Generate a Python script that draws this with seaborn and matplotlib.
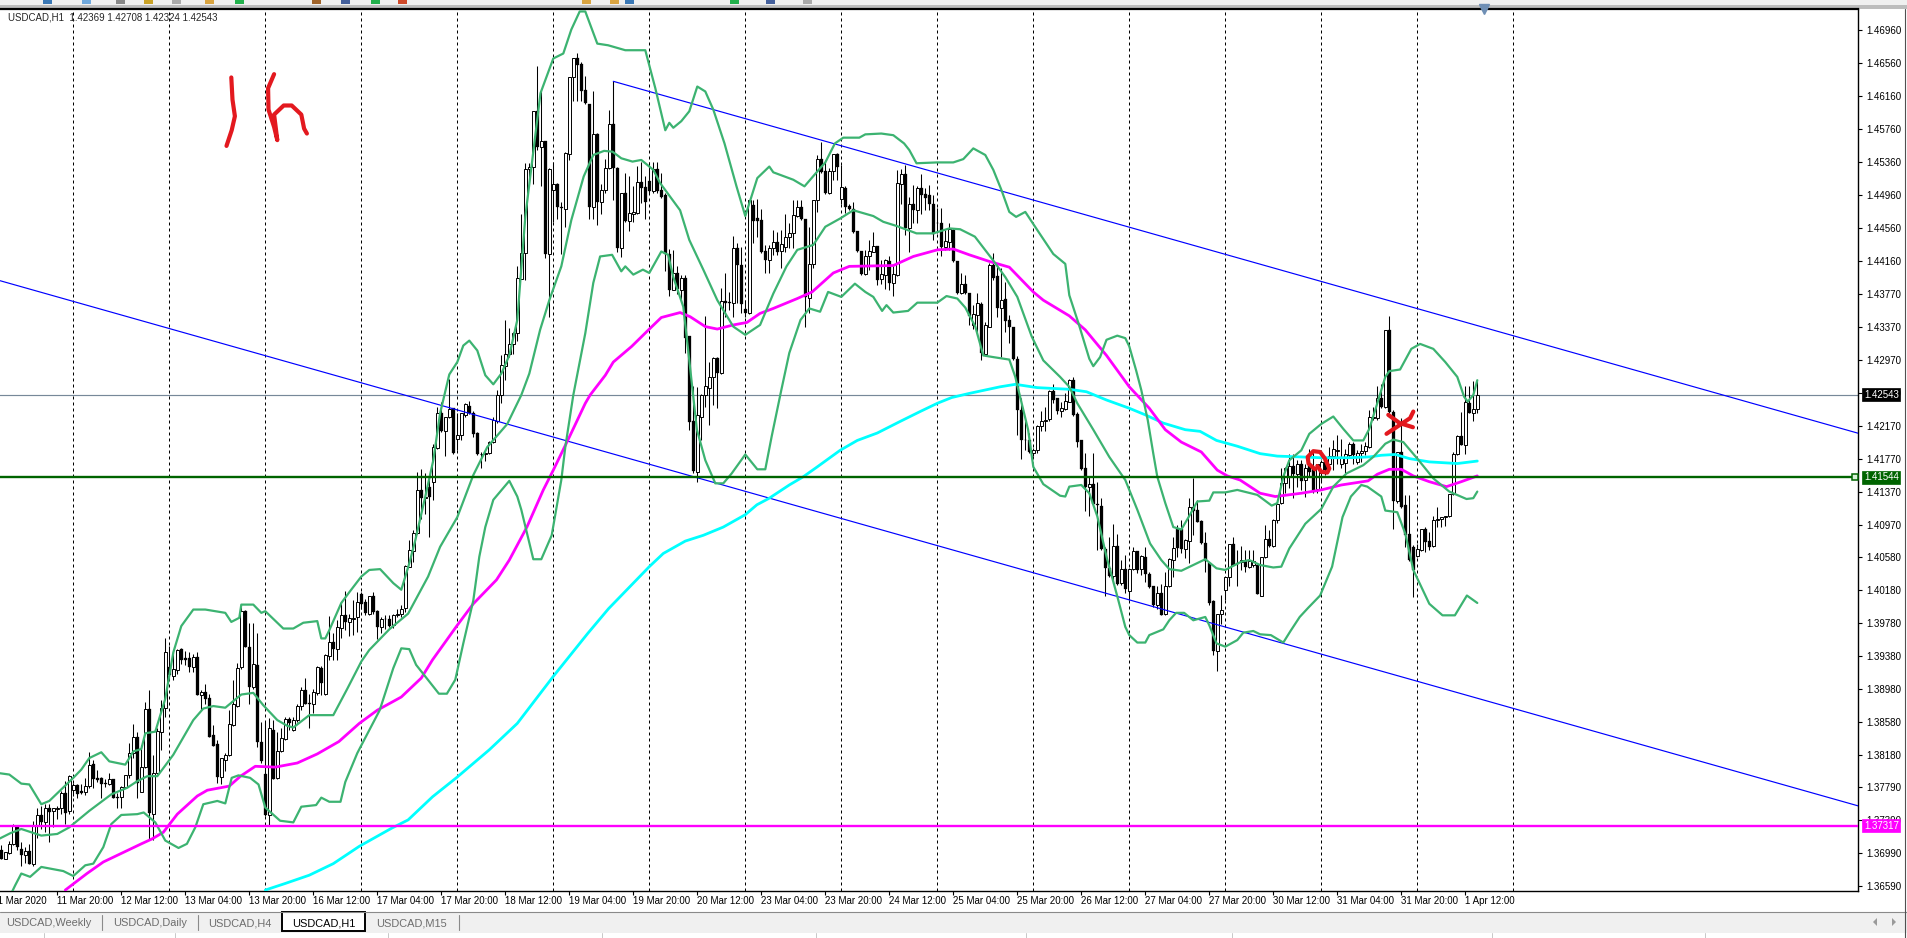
import numpy as np
import pandas as pd
import seaborn as sns
import matplotlib.pyplot as plt
from matplotlib.patches import Rectangle, Polygon

# USDCAD H1 candles, all quotes in 1/10000 of a price unit
open_pts = [
    13703,13692,13699,13710,13732,13704,13696,13701,13686,13732,
    13745,13737,13754,13750,13752,13753,13772,13750,13775,13781,
    13774,13773,13780,13807,13790,13790,13784,13783,13788,13767,
    13767,13779,13793,13820,13839,13773,13803,13873,13746,13796,
    13846,13875,13924,13914,13921,13946,13935,13935,13924,13936,
    13891,13894,13887,13842,13831,13791,13812,13818,13854,13877,
    13924,13992,13949,13900,13927,13834,13795,13745,13848,13790,
    13823,13837,13861,13848,13860,13877,13896,13881,13879,13893,
    13923,13892,13938,13955,13946,13972,13987,13979,13983,13985,
    14013,14003,13989,14011,13992,13973,13983,13983,13975,13987,
    13988,13996,14046,14065,14087,14139,14129,14143,14149,14190,
    14232,14211,14228,14238,14201,14206,14230,14241,14232,14208,
    14182,14183,14184,14197,14223,14254,14289,14304,14316,14329,
    14395,14426,14528,14531,14598,14555,14562,14425,14503,14510,
    14482,14479,14546,14639,14662,14655,14624,14607,14482,14570,
    14488,14503,14529,14582,14529,14432,14499,14465,14474,14475,
    14512,14506,14513,14501,14528,14503,14496,14425,14381,14402,
    14381,14396,14325,14222,14161,14228,14254,14263,14276,14299,
    14281,14368,14367,14365,14432,14412,14358,14353,14484,14469,
    14466,14429,14418,14432,14439,14429,14434,14445,14450,14471,
    14482,14468,14372,14413,14490,14540,14525,14499,14525,14546,
    14492,14505,14483,14480,14453,14429,14401,14423,14428,14435,
    14395,14400,14417,14390,14400,14510,14522,14457,14486,14478,
    14505,14498,14496,14486,14463,14462,14433,14440,14454,14417,
    14378,14389,14378,14339,14351,14364,14304,14337,14412,14398,
    14360,14370,14345,14336,14298,14236,14200,14200,14184,14187,
    14216,14222,14225,14259,14250,14235,14237,14246,14272,14231,
    14199,14165,14142,14146,14122,14119,14068,14044,14035,14071,
    14026,14043,14016,14043,14065,14043,14058,14037,14022,13999,
    14014,13989,14022,14054,14092,14092,14067,14077,14118,14115,
    14101,14075,14051,14004,13944,13989,14018,14034,14073,14051,
    14052,14053,14045,14048,14048,14011,14058,14080,14071,14102,
    14123,14147,14156,14168,14158,14171,14151,14171,14165,14140,
    14159,14175,14171,14180,14186,14171,14172,14181,14195,14173,
    14184,14186,14191,14226,14226,14250,14239,14333,14234,14125,
    14185,14121,14086,14070,14059,14066,14092,14077,14071,14102,
    14104,14106,14107,14134,14182,14204,14194,14244,14232,14237]
high_pts = [
    13708,13700,13714,13734,13733,13712,13706,13710,13738,13753,
    13756,13758,13758,13754,13756,13774,13786,13794,13784,13782,
    13782,13790,13821,13812,13800,13791,13789,13796,13788,13772,
    13780,13794,13832,13855,13846,13830,13882,13897,13818,13850,
    13884,13960,13950,13942,13946,13947,13944,13942,13940,13943,
    13896,13904,13892,13854,13836,13814,13820,13872,13908,13929,
    13997,13994,13978,13978,13966,13858,13858,13862,13860,13846,
    13850,13864,13864,13864,13880,13900,13911,13892,13898,13925,
    13925,13940,13986,13965,13981,14003,14017,13989,14005,14015,
    14015,14007,14011,14015,13993,13985,13987,13987,13988,13995,
    13999,14048,14078,14091,14161,14164,14159,14157,14195,14239,
    14246,14228,14273,14238,14232,14232,14244,14247,14235,14209,
    14185,14185,14198,14228,14260,14302,14345,14335,14331,14410,
    14473,14535,14535,14598,14653,14622,14562,14529,14537,14511,
    14488,14549,14640,14662,14669,14658,14641,14607,14622,14572,
    14510,14540,14600,14634,14530,14499,14523,14519,14507,14532,
    14537,14519,14537,14537,14537,14523,14499,14431,14430,14410,
    14400,14400,14325,14265,14264,14255,14350,14294,14300,14300,
    14384,14402,14379,14447,14438,14434,14369,14490,14491,14492,
    14480,14436,14436,14454,14452,14454,14474,14462,14490,14491,
    14491,14468,14458,14490,14545,14561,14539,14529,14546,14547,
    14533,14507,14486,14488,14453,14429,14430,14442,14452,14435,
    14418,14419,14422,14412,14527,14528,14533,14494,14509,14507,
    14522,14505,14509,14497,14481,14481,14454,14463,14455,14417,
    14402,14400,14378,14363,14378,14367,14343,14414,14426,14413,
    14408,14391,14351,14336,14301,14251,14222,14208,14190,14218,
    14235,14240,14260,14268,14251,14246,14256,14273,14276,14233,
    14200,14184,14155,14184,14149,14129,14070,14082,14098,14086,
    14054,14060,14044,14070,14065,14060,14070,14040,14023,14022,
    14025,14040,14056,14082,14096,14102,14080,14129,14154,14127,
    14103,14088,14051,14006,13989,14012,14034,14074,14082,14066,
    14071,14066,14066,14066,14048,14058,14097,14090,14104,14123,
    14166,14167,14183,14183,14175,14175,14171,14189,14185,14171,
    14175,14179,14191,14199,14206,14201,14189,14197,14197,14188,
    14195,14197,14236,14239,14265,14267,14333,14350,14236,14185,
    14226,14133,14133,14072,14074,14092,14094,14088,14108,14118,
    14106,14108,14134,14185,14205,14234,14265,14265,14271,14271]
low_pts = [
    13692,13692,13698,13708,13702,13683,13687,13685,13683,13717,
    13728,13724,13712,13730,13740,13746,13734,13746,13768,13765,
    13770,13769,13778,13778,13785,13765,13779,13781,13765,13754,
    13753,13778,13790,13814,13765,13773,13802,13716,13715,13795,
    13824,13864,13908,13908,13916,13928,13927,13918,13918,13890,
    13872,13879,13840,13828,13784,13783,13798,13817,13853,13876,
    13922,13948,13879,13898,13827,13808,13744,13732,13788,13789,
    13821,13836,13848,13847,13858,13872,13879,13851,13869,13891,
    13890,13890,13933,13933,13933,13959,13969,13962,13963,13967,
    13995,13987,13987,13989,13958,13966,13971,13973,13972,13985,
    13985,13991,14045,14052,14086,14104,14110,14082,14127,14189,
    14209,14180,14226,14182,14187,14199,14228,14231,14203,14181,
    14166,14174,14182,14196,14220,14244,14272,14300,14304,14320,
    14395,14393,14511,14510,14551,14507,14420,14349,14464,14468,
    14425,14458,14539,14610,14610,14610,14607,14467,14468,14460,
    14473,14499,14528,14522,14428,14421,14464,14453,14464,14473,
    14487,14468,14499,14499,14499,14493,14404,14374,14381,14377,
    14367,14305,14212,14159,14149,14200,14240,14218,14242,14238,
    14280,14349,14357,14349,14365,14354,14349,14352,14438,14446,
    14426,14402,14402,14424,14424,14408,14428,14432,14432,14470,
    14466,14337,14353,14408,14476,14523,14498,14498,14515,14515,
    14486,14475,14478,14451,14428,14400,14400,14406,14427,14387,
    14389,14383,14381,14374,14398,14486,14448,14427,14462,14463,
    14474,14478,14478,14442,14450,14423,14430,14430,14415,14377,
    14377,14377,14339,14334,14325,14297,14303,14336,14394,14349,
    14300,14331,14317,14296,14206,14177,14187,14184,14180,14184,
    14210,14210,14223,14244,14231,14228,14236,14245,14229,14191,
    14163,14114,14107,14119,14066,14066,14010,14034,14026,14024,
    14024,14014,14006,14042,14038,14036,14028,14020,13997,13995,
    13987,13987,14021,14034,14058,14062,14057,14050,14084,14100,
    14073,14040,13999,13939,13920,13977,14006,14022,14048,14022,
    14042,14039,14044,14046,14013,14010,14057,14070,14070,14099,
    14122,14135,14141,14129,14143,14139,14131,14155,14135,14135,
    14149,14157,14165,14163,14171,14165,14159,14179,14171,14171,
    14173,14181,14190,14224,14224,14238,14238,14232,14092,14123,
    14117,14070,14053,14009,14058,14065,14064,14066,14070,14094,
    14094,14095,14106,14133,14181,14193,14182,14232,14222,14232]
close_pts = [
    13692,13700,13710,13732,13706,13696,13701,13686,13732,13745,
    13737,13754,13748,13753,13754,13772,13747,13792,13781,13771,
    13772,13780,13806,13788,13787,13782,13782,13788,13766,13765,
    13779,13793,13820,13839,13784,13803,13873,13747,13796,13847,
    13875,13942,13915,13922,13945,13933,13933,13924,13936,13891,
    13894,13886,13840,13829,13791,13814,13818,13855,13880,13923,
    13992,13949,13900,13928,13834,13810,13745,13850,13788,13823,
    13838,13861,13857,13860,13877,13896,13880,13879,13894,13924,
    13905,13939,13955,13946,13973,13987,13979,13984,13984,14003,
    14001,13990,14011,13991,13973,13982,13982,13974,13987,13988,
    13995,14047,14066,14087,14139,14129,14131,14131,14191,14232,
    14211,14228,14237,14184,14206,14232,14243,14232,14207,14182,
    14183,14183,14197,14224,14254,14290,14304,14316,14329,14396,
    14426,14528,14531,14598,14555,14562,14425,14528,14510,14482,
    14481,14548,14640,14662,14654,14623,14608,14482,14570,14488,
    14503,14529,14582,14529,14432,14499,14465,14475,14476,14512,
    14505,14488,14501,14528,14501,14494,14425,14381,14402,14383,
    14396,14323,14221,14162,14230,14254,14265,14276,14299,14281,
    14368,14365,14365,14432,14412,14364,14353,14490,14465,14465,
    14428,14418,14432,14439,14428,14437,14446,14450,14472,14482,
    14467,14373,14413,14490,14540,14524,14499,14525,14546,14531,
    14506,14482,14479,14452,14429,14401,14423,14429,14435,14394,
    14401,14418,14390,14401,14511,14522,14457,14486,14478,14505,
    14496,14493,14486,14449,14462,14433,14441,14455,14416,14378,
    14389,14378,14350,14352,14365,14305,14339,14412,14396,14360,
    14369,14344,14336,14298,14236,14199,14199,14185,14187,14216,
    14222,14224,14259,14248,14235,14238,14247,14272,14230,14197,
    14164,14142,14146,14122,14121,14067,14044,14035,14071,14025,
    14043,14019,14043,14065,14042,14059,14037,14021,13999,14014,
    13987,14022,14055,14069,14069,14067,14078,14118,14114,14100,
    14075,14053,14002,13944,13989,13994,14033,14073,14048,14049,
    14054,14045,14053,14053,14013,14058,14079,14071,14103,14122,
    14147,14165,14168,14158,14171,14150,14165,14161,14139,14171,
    14173,14163,14180,14189,14188,14179,14182,14195,14181,14184,
    14186,14192,14227,14228,14250,14239,14333,14234,14125,14185,
    14118,14084,14054,14042,14068,14092,14076,14070,14102,14104,
    14106,14108,14134,14182,14204,14194,14245,14232,14237,14254]

# indicator lines: bar number, then quote
upper_bar = [-1,2,5,7,10,12,15,18,20,22,25,27,31,33,35,36,38.5,41,43,45,48,51,56,57.5,59.5,60,63,65,66,70.5,73,75.5,79,80,81,82,85,87,90,92,94.7,98,100,102,103.5,106,108,109.7,112,114,115.5,117,119,121,123,125,127,129,131,134.8,138,140.5,142.5,144.6,146,149,151.7,156,161,163.5,166,167,168,170,172,174,176,178,180.8,183.8,186,189,192,193,198,200.8,204,206,208.4,210.5,214.5,216,220,223,225.7,227,228.8,234,238,240.5,243,246,248,250,252,253.7,256,259,263,266,267,269.3,272,273,274.7,276.3,279,281,282,283.7,285,286.6,288,289,291,293,295,296.7,299,302,303,306,309,314,317.6,319,320.5,322,325,327,330,333,335.5,338,340.5,342,344,346,347,349.7,352.5,354.7,358,361,364,365.7,366.6,368,369]
upper_pts = [13796,13794,13783,13782,13758,13762,13776,13790,13800,13814,13821,13810,13806,13822,13825,13844,13846,13886,13942,13974,13994,13994,13990,13979,13984,14000,14000,13990,13992,13971,13971,13978,13980,13959,13959,13969,14002,14015,14034,14042,14043,14026,14018,14050,14078,14131,14175,14232,14279,14294,14314,14320,14308,14278,14267,14280,14302,14345,14470,14620,14662,14668,14697,14719,14719,14680,14678,14672,14672,14626,14575,14584,14578,14586,14598,14628,14622,14600,14559,14507,14471,14517,14531,14524,14515,14507,14525,14536,14559,14566,14566,14570,14571,14569,14559,14551,14535,14536,14536,14540,14553,14545,14527,14503,14476,14470,14476,14454,14425,14413,14375,14341,14298,14289,14300,14321,14326,14323,14313,14284,14260,14224,14183,14155,14123,14094,14091,14105,14125,14126,14136,14136,14139,14133,14120,14123,14155,14175,14187,14207,14219,14228,14213,14199,14199,14213,14244,14276,14283,14285,14310,14316,14310,14294,14276,14252,14246,14254,14272]

middle_bar = [-1,2.3,5,10,14,17,22,27.5,31.5,34,36.5,39,43,48,50.5,53,56,60,63,65.5,69,71.5,73,77,83,86.5,90,92,97,101.7,106.7,109.7,114,118,121.5,126.5,130,132,134.7,137,140,142.5,145.6,148,150.7,152.8,155,157.8,160,163,164.7,169.7,172,175.5,179,183,186,189.7,193,196.3,199,203,206,209.7,213,218,220.5,223.8,228.8,233,237,239.7,243.4,248,251,254,257.6,260.5,264.7,267,269,273,277,281,284,287.2,290,292,295,298,301,303.8,306,310,312,314.7,318,320,322,326,330,333,336.3,340.5,343,346,348,350.5,354,358,362,366.3,368,369]
middle_pts = [13715,13723,13728,13720,13722,13730,13750,13770,13778,13786,13792,13792,13818,13860,13874,13877,13875,13891,13893,13878,13860,13853,13851,13866,13866,13898,13931,13945,13970,13989,14034,14070,14106,14157,14191,14219,14254,14280,14333,14369,14410,14466,14519,14545,14550,14549,14541,14537,14539,14527,14511,14478,14442,14406,14369,14337,14327,14339,14377,14410,14430,14436,14458,14468,14478,14471,14464,14459,14450,14450,14456,14455,14446,14417,14397,14373,14325,14296,14276,14264,14244,14212,14179,14151,14115,14074,14054,14043,14041,14048,14055,14044,14042,14052,14054,14048,14045,14046,14068,14098,14116,14143,14159,14169,14179,14195,14200,14197,14177,14153,14137,14128,14129,14137]

lower_bar = [2.5,3.5,5,7.2,10,15.5,18,21,23,25.5,27.5,30,34,35.6,38.5,41,44.3,46.4,48.5,50.5,54,56,57.6,59.3,62.2,64.3,66,69.7,73,75,78.7,80,82,84.8,86,89,92,94.6,98,100,102,103.7,106.3,109.4,111.4,113.5,115.5,118,119.5,121,123,127,129,130,133,135,137.6,140,141,143,146,148,149.7,152.7,155,156,158,160.4,162,165,166.7,168,170.5,172,173.9,176,178.5,180.5,182.6,186,189,191,192.6,195,197,199.8,202,204.7,206.7,210,213.4,216,218,220.2,221.3,223,226.7,229,234,236.3,239,241,243.5,245.5,248,252,253.5,256.7,258,260.5,264.7,266,267,270,272,274,276.3,279,281,282,284,286,287,290.5,292,293.7,295.7,298,301,302,303.8,306,309,310.5,313,314.7,317.4,320.5,322.3,324.6,326.7,329.7,332.7,335.3,337.4,340,341.5,345,346,349,351,353,357,360.3,363.4,366.4,369]
lower_pts = [13650,13660,13674,13670,13682,13677,13671,13684,13686,13706,13734,13745,13746,13748,13736,13714,13705,13710,13730,13758,13762,13759,13790,13793,13790,13782,13754,13738,13736,13755,13757,13766,13761,13761,13785,13820,13848,13872,13923,13947,13946,13927,13911,13892,13892,13909,13953,14005,14058,14094,14127,14150,14131,14115,14055,14055,14084,14151,14191,14254,14329,14390,14422,14424,14404,14410,14400,14406,14402,14428,14424,14397,14361,14296,14212,14175,14147,14147,14159,14182,14164,14164,14204,14260,14305,14345,14359,14355,14379,14373,14389,14379,14373,14356,14363,14354,14356,14366,14366,14374,14371,14360,14337,14302,14300,14297,14276,14212,14167,14146,14132,14131,14143,14145,14135,14107,14058,14010,13973,13963,13954,13954,13963,13970,13981,13990,13990,13981,13985,13975,13953,13949,13957,13966,13968,13964,13963,13954,13968,13985,13996,14011,14046,14106,14131,14145,14143,14131,14114,14112,14086,14042,14001,13987,13987,14011,14002]

ma_slow_bar = [66,71,77,83,89.5,97.6,101.7,107.8,114,122,129,138,146.6,151.8,157.2,162,165.5,171,175.5,180.5,186,188.9,192,197,200.5,204,209.7,214,219,224.7,229.7,234,237.6,242,249.7,253.5,259,267,271.3,276.3,282,286,290.5,296,299.7,303.8,309,314.7,319,325,330,336.7,342,345,348.5,352,357,364,369]
ma_slow_pts = [13654,13662,13672,13686,13707,13729,13739,13767,13791,13824,13856,13913,13965,13995,14022,14046,14062,14077,14084,14094,14109,14121,14129,14145,14155,14167,14187,14199,14208,14222,14234,14244,14251,14256,14264,14267,14263,14261,14258,14248,14238,14230,14220,14212,14210,14199,14192,14183,14180,14179,14178,14178,14179,14181,14182,14177,14173,14171,14174]

ma_fast_bar = [16,21.4,25.5,35,37.7,40.5,44,49,51.5,57,59.8,63.5,68.5,74,79,84.4,89.5,94,100,105,107.8,114,118,123.8,127,131.4,135.5,138,142,146,147.2,151,153,157.6,161.8,165,169.7,172.2,176,179,183,186.4,189.7,193,199,202.7,208,212,223,228,234,238,242,247,252,258,260.5,267,271,276.3,282,287,291,295,300,304,306.5,309.7,314.7,318.5,325,330,335,341.7,344,347,350,353,357,361.3,365,369]
ma_fast_pts = [13654,13674,13688,13710,13716,13724,13746,13768,13775,13780,13792,13804,13803,13808,13819,13834,13856,13872,13888,13911,13933,13975,14001,14030,14054,14094,14139,14163,14203,14244,14254,14278,14294,14313,14333,14348,14354,14349,14337,14334,14339,14342,14353,14359,14371,14379,14402,14410,14411,14422,14430,14431,14424,14416,14409,14379,14369,14350,14333,14302,14264,14238,14212,14197,14185,14163,14156,14151,14135,14131,14135,14139,14145,14150,14158,14164,14164,14156,14149,14143,14149,14156]

# blue channel: bar number and quote at each end
channel_low_bar = [-0.3, 464.3]
channel_low_pts = [14392.6, 13755.9]
channel_high_bar = [153, 464.3]
channel_high_pts = [14634.3, 14207.6]

# horizontal levels
last_price = 1.42543
support_price = 1.41544
floor_price = 1.37317

# red pen marks on the picture, same bar/quote units
pen_one_bar = [57.5,57.8,58.4,57.6,56.3]
pen_one_pts = [14639,14612,14592,14575,14556]
pen_h_bar = [68.2,66.7,66.8,68.2,69,68.2,70.6,72.6,75,75.7,76.4]
pen_h_pts = [14643,14626,14600,14579,14563,14594,14605,14605,14594,14577,14571]
pen_loop_bar = [328.4,326.8,326.6,328,329.7,330.9,332,331.5,330,329]
pen_loop_pts = [14164,14171,14179,14186,14185,14177,14165,14160,14161,14168]
pen_x1_bar = [346.75,349.6,352.9]
pen_x1_pts = [14230,14220,14215]
pen_x2_bar = [346.3,349.7,352.2,353]
pen_x2_pts = [14207,14218,14226,14234]

price_ticks = [1.46960,1.46560,1.46160,1.45760,1.45360,1.44960,1.44560,1.44160,1.43770,1.43370,
               1.42970,1.42570,1.42170,1.41770,1.41370,1.40970,1.40580,1.40180,1.39780,1.39380,
               1.38980,1.38580,1.38180,1.37790,1.37390,1.36990,1.36590]
time_labels = ['11 Mar 2020','11 Mar 20:00','12 Mar 12:00','13 Mar 04:00','13 Mar 20:00','16 Mar 12:00',
               '17 Mar 04:00','17 Mar 20:00','18 Mar 12:00','19 Mar 04:00','19 Mar 20:00','20 Mar 12:00',
               '23 Mar 04:00','23 Mar 20:00','24 Mar 12:00','25 Mar 04:00','25 Mar 20:00','26 Mar 12:00',
               '27 Mar 04:00','27 Mar 20:00','30 Mar 12:00','31 Mar 04:00','31 Mar 20:00','1 Apr 12:00']
tab_labels = ['USDCAD,Weekly','USDCAD,Daily','USDCAD,H4','USDCAD,H1','USDCAD,M15']

sns.set_theme(style='white')
plt.rcParams['font.family'] = ['Liberation Sans', 'DejaVu Sans']

W, H = 1907, 938
LABEL_SIZE = 7.0
fig = plt.figure(figsize=(W / 100, H / 100), dpi=100, facecolor='white')

# window chrome lives on its own full size axes, in screen pixels
ui = fig.add_axes([0, 0, 1, 1], zorder=0)
ui.set_xlim(0, W)
ui.set_ylim(H, 0)
ui.axis('off')
ui.add_patch(Rectangle((0, 0), W, 5, color='#f0f0f0', lw=0))
ui.add_patch(Rectangle((0, 5), W, 4, color='#bdbdbd', lw=0))
for x0, c in [(43, '#3a78b5'), (82, '#6fa8dc'), (116, '#888888'), (144, '#c9a227'), (172, '#aaaaaa'), (205, '#d9a441'),
              (235, '#22b14c'), (312, '#a0642a'), (341, '#44609c'), (371, '#22b14c'), (398, '#d04a2a'), (582, '#d9a441'),
              (610, '#d9a441'), (625, '#3a78b5'), (730, '#22b14c'), (766, '#44609c'), (803, '#aaaaaa')]:
    ui.add_patch(Rectangle((x0, 0), 9, 4, color=c, lw=0))
ui.add_patch(Rectangle((0, 913), W, 20, color='#f0f0f0', lw=0))
ui.plot([0, W], [912, 912], color='#8a8a8a', lw=0.8)
ui.plot([1904.5, 1904.5], [9, 938], color='#505050', lw=0.8)
for x0 in [44, 175, 388, 602, 816, 1026, 1232, 1492, 1705]:
    ui.plot([x0, x0], [933, 938], color='#c8c8c8', lw=0.7)
ui.add_patch(Rectangle((282, 912), 83, 19.5, facecolor='white', edgecolor='black', lw=1.4))
tab_x = [6, 113, 208, 292, 376]
for name, x0 in zip(tab_labels, tab_x):
    ui.text(x0, 923, name, fontsize=7.9, va='center', ha='left',
            color='black' if name.endswith('H1') else '#6d6d6d')
for x0 in [102, 198, 459]:
    ui.plot([x0, x0], [915, 930], color='#8a8a8a', lw=0.8)
ui.add_patch(Polygon([(1877, 918), (1873, 922), (1877, 926)], color='#9a9a9a', lw=0))
ui.add_patch(Polygon([(1892, 918), (1896, 922), (1892, 926)], color='#9a9a9a', lw=0))

# chart axes, left edge hangs off the canvas so the first time label gets cut
ax = fig.add_axes([-10 / W, (H - 890.7) / H, 1868.4 / W, 881.4 / H], zorder=1, facecolor='white')

df = pd.DataFrame({'bar': np.arange(len(open_pts)), 'open': open_pts, 'high': high_pts,
                   'low': low_pts, 'close': close_pts})
for c in ['open', 'high', 'low', 'close']:
    df[c] = df[c] / 10000

for d in range(18, 379, 24):
    ax.axvline(d, color='black', lw=0.72, ls=(0, (3, 3)), zorder=1)

ax.axhline(last_price, color='#778899', lw=0.85, zorder=2)

ax.vlines(df['bar'], df['low'], df['high'], color='black', lw=0.75, zorder=3)
up = df[df['close'] >= df['open']]
down = df[df['close'] < df['open']]
ax.bar(up['bar'], (up['close'] - up['open']).clip(lower=0.00003), 0.62, bottom=up['open'],
       facecolor='white', edgecolor='black', lw=0.7, zorder=4)
ax.bar(down['bar'], (down['open'] - down['close']).clip(lower=0.00003), 0.72, bottom=down['close'],
       facecolor='black', edgecolor='black', lw=0.2, zorder=4)

def draw_line(bars, pts, color, lw, order=5):
    sns.lineplot(x=bars, y=np.array(pts) / 10000, ax=ax, color=color, lw=lw, sort=False,
                 estimator=None, legend=False, zorder=order)

draw_line(channel_low_bar, channel_low_pts, '#0000ff', 0.85)
draw_line(channel_high_bar, channel_high_pts, '#0000ff', 0.85)
ax.vlines(153, 1.4490, 1.46343, color='black', lw=0.75, zorder=3)
draw_line(ma_slow_bar, ma_slow_pts, '#00ffff', 2.0)
draw_line(ma_fast_bar, ma_fast_pts, '#ff00ff', 2.0)
draw_line(upper_bar, upper_pts, '#3cb371', 1.6, 6)
draw_line(middle_bar, middle_pts, '#3cb371', 1.6, 6)
draw_line(lower_bar, lower_pts, '#3cb371', 1.6, 6)

ax.axhline(support_price, color='#006400', lw=1.7, zorder=7)
ax.axhline(floor_price, color='#ff00ff', lw=1.7, zorder=7)
ax.plot([463.4], [support_price], marker='s', ms=4, mfc='#d8f0d8', mec='#006400', mew=1.1, zorder=8)

for bars, pts in [(pen_one_bar, pen_one_pts), (pen_h_bar, pen_h_pts), (pen_loop_bar, pen_loop_pts),
                  (pen_x1_bar, pen_x1_pts), (pen_x2_bar, pen_x2_pts)]:
    draw_line(bars, pts, '#e3191f', 3.0, 9)

ax.set_xlim(-2.825, 464.275)
ax.set_ylim(1.36532, 1.47216)
ax.set_xlabel('')
ax.set_ylabel('')
ax.yaxis.tick_right()
ax.set_yticks(price_ticks)
ax.set_yticklabels([f'{p:.5f}' for p in price_ticks])
ax.set_xticks([-2 + 16 * i for i in range(len(time_labels))])
ax.set_xticklabels(time_labels, ha='left')
ax.tick_params(axis='x', bottom=True, length=3, width=0.8, color='black', labelsize=LABEL_SIZE, pad=1.0, labelcolor='black')
ax.tick_params(axis='y', right=True, left=False, length=3, width=0.8, color='black', labelsize=LABEL_SIZE, pad=2.5, labelcolor='black')
for s in ['top', 'right', 'bottom']:
    ax.spines[s].set_visible(True)
    ax.spines[s].set_color('black')
    ax.spines[s].set_linewidth(1.0)
ax.spines['left'].set_visible(False)
ax.spines['top'].set_linewidth(1.6)

# price tags sitting on the right axis
for price, face in [(last_price, 'black'), (support_price, '#006400'), (floor_price, '#ff00ff')]:
    ax.annotate(f'{price:.5f}', xy=(1, price), xycoords=ax.get_yaxis_transform(), xytext=(5.5, 0),
                textcoords='offset pixels', fontsize=LABEL_SIZE, color='white', va='center', ha='left', annotation_clip=False,
                bbox=dict(boxstyle='square,pad=0.15', facecolor=face, edgecolor=face, lw=0.5), zorder=10)

ax.plot([370.6], [1.47216], marker='v', ms=7, color='#6f8fb5', clip_on=False, zorder=10)

fig.text(8 / W, 1 - 17.6 / H, 'USDCAD,H1  1.42369 1.42708 1.42324 1.42543', fontsize=LABEL_SIZE, va='center', ha='left', zorder=20)
fig.add_artist(Polygon([(0, H - 15.5), (3.5, H - 15.5), (0, H - 19)], transform=None, color='black', lw=0))

fig.savefig('out.png', dpi=100)
plt.close(fig)
